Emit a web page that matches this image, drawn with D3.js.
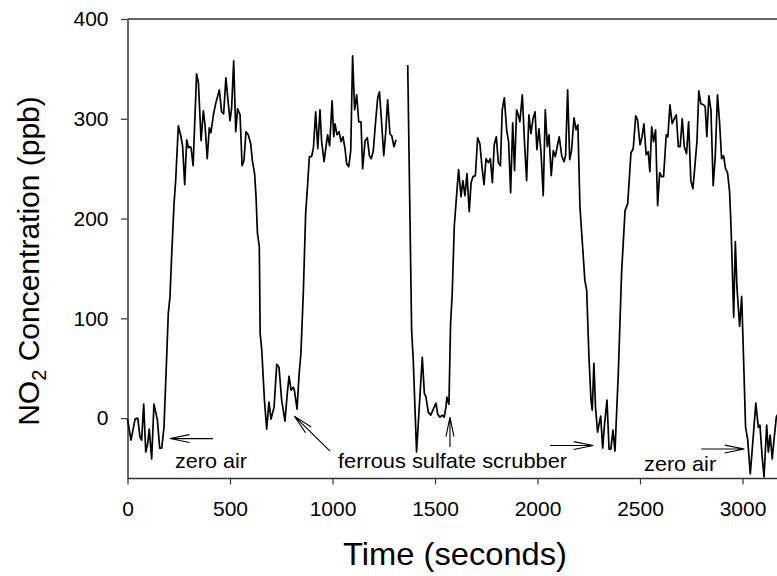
<!DOCTYPE html>
<html>
<head>
<meta charset="utf-8">
<script src="https://cdn.jsdelivr.net/npm/d3@7"></script>
<style>
  html, body { margin: 0; padding: 0; background: #fff; }
  svg { display: block; font-family: "Liberation Sans", Arial, sans-serif; }
</style>
</head>
<body>
<svg id="chart" width="777" height="576"></svg>
<script>
// ---- data ----
const time1 = [0,17,37,50,61,69,79,89,98,106,118,129,146,157,167,178,191,199,207,215,227,235,248,261,269,279,289,297,305,310,320,337,346,359,370,378,389,399,407,419,430,448,459,469,480,490,500,508,518,528,537,549,559,568,578,589,601,609,620,627,634,643,647,655,668,679,690,700,715,728,739,752,768,780,788,798,809,814,827,837,846,858,869,879,887,898,907,918,928,939,947,959,967,976,986,998,1006,1012,1022,1032,1042,1051,1061,1069,1079,1089,1098,1108,1118,1128,1139,1147,1159,1170,1180,1189,1199,1211,1220,1229,1240,1250,1259,1269,1280,1289,1300,1310];
const no2_1 = [-1,-22,-1,0,-19,-22,14,-34,-26,-11,-41,14,-2,-30,-30,-9,61,105,121,161,215,238,293,282,272,234,279,271,272,271,253,345,336,278,308,294,260,291,286,304,315,329,307,305,341,319,298,311,358,287,310,304,253,258,287,284,275,258,245,222,185,172,85,68,18,-11,16,-1,11,54,51,18,-3,26,42,28,31,28,9,44,65,128,205,235,262,262,271,307,270,309,277,257,270,284,273,318,282,295,284,287,277,282,270,255,252,268,363,309,324,297,297,250,278,281,263,260,268,299,320,327,295,263,285,319,285,283,272,279];

const time2 = [1367,1386,1394,1410,1427,1438,1448,1456,1467,1479,1492,1505,1513,1524,1536,1545,1554,1558,1568,1576,1584,1594,1606,1615,1627,1636,1646,1656,1667,1676,1685,1697,1708,1719,1729,1739,1749,1760,1770,1780,1789,1799,1809,1819,1828,1838,1850,1859,1869,1879,1888,1898,1906,1914,1926,1936,1947,1958,1968,1978,1988,1997,2007,2017,2028,2038,2048,2056,2067,2077,2087,2096,2106,2118,2129,2137,2147,2157,2166,2178,2188,2197,2207,2220,2231,2240,2251,2261,2267,2275,2283,2293,2308,2318,2327,2339,2349,2358,2368,2378,2394,2410,2427,2440,2456,2467,2479,2488,2500,2510,2519,2530,2540,2548,2557,2566,2576,2586,2596,2605,2615,2628,2636,2646,2657,2667,2677,2687,2696,2706,2716,2727,2737,2748,2758,2768,2778,2787,2797,2810,2818,2826,2836,2846,2857,2867,2878,2888,2898,2908,2917,2927,2937,2944,2950,2957,2965,2973,2986,2996,3005,3015,3025,3038,3051,3065,3077,3085,3096,3105,3118,3126,3135,3145,3155,3165,3172];
const no2_2 = [354,88,58,-34,24,61,25,21,6,3,9,15,4,1,3,1,12,21,14,95,125,192,225,249,222,238,223,245,207,236,242,243,281,275,252,234,260,256,260,236,274,282,256,253,309,321,288,277,226,296,248,309,304,297,324,279,238,304,285,300,307,269,290,267,223,309,272,284,243,268,262,272,282,263,257,263,329,259,268,301,289,294,212,172,138,128,61,18,8,55,11,-14,2,-30,-6,18,-31,-31,-12,-33,44,145,208,215,266,270,303,299,274,282,295,264,267,247,292,277,289,213,246,242,242,284,282,314,295,300,304,272,272,300,272,265,297,238,230,253,278,328,315,314,312,282,323,309,233,262,324,297,260,263,250,246,227,192,152,101,177,131,92,122,61,-9,-21,-56,-22,15,-9,-7,-39,-59,-7,-34,-17,-41,-19,1,4];

const xMajorTicks = [0, 500, 1000, 1500, 2000, 2500, 3000];
const xMinorTicks = d3.range(0, 3201, 100).filter(d => d % 500 !== 0);
const yMajorTicks = [0, 100, 200, 300, 400];
const yMinorTicks = [-50, 50, 150, 250, 350];

const labels = [
  { text: "zero air", t: 232, v: -49.5, w: 72 },
  { text: "ferrous sulfate scrubber", t: 1027, v: -49.5, w: 229 },
  { text: "zero air", t: 2520, v: -52.5, w: 72 }
];
const arrows = [
  { t0: 417, v0: -20.5, t1: 207, v1: -20.5 },
  { t0: 988, v0: -33, t1: 814, v1: 2 },
  { t0: 1573, v0: -29, t1: 1573, v1: 1 },
  { t0: 2061, v0: -27.5, t1: 2272, v1: -27.5 },
  { t0: 2798, v0: -31, t1: 3009, v1: -31 }
];

// ---- layout ----
const svg = d3.select("#chart");
const x = d3.scaleLinear().domain([0, 3200]).range([127.5, 783.5]);
const y = d3.scaleLinear().domain([-60, 400]).range([478, 19]);

const axisColor = "#333";

// top frame line
svg.append("line")
  .attr("x1", x(0)).attr("x2", x(3200))
  .attr("y1", y(400)).attr("y2", y(400))
  .attr("stroke", axisColor).attr("stroke-width", 1.5);

// x axis
const gx = svg.append("g").attr("transform", `translate(0,${y(-60)})`);
gx.call(d3.axisBottom(x).tickValues(xMinorTicks).tickSize(4).tickSizeOuter(0).tickFormat(""));
gx.call(d3.axisBottom(x).tickValues(xMajorTicks).tickSize(6.5).tickSizeOuter(0).tickFormat(d3.format("d")));
gx.selectAll("path.domain").attr("stroke", axisColor).attr("stroke-width", 1.5);
gx.selectAll(".tick line").attr("stroke", axisColor).attr("stroke-width", 1.2);
gx.selectAll(".tick text").attr("fill", "#000").style("font-size", "21px").attr("y", 23).attr("dy", "0.71em");

// y axis
const gy = svg.append("g").attr("transform", `translate(${x(0)},0)`);
gy.call(d3.axisLeft(y).tickValues(yMinorTicks).tickSize(4).tickSizeOuter(0).tickFormat(""));
gy.call(d3.axisLeft(y).tickValues(yMajorTicks).tickSize(6.5).tickSizeOuter(0).tickFormat(d3.format("d")));
gy.selectAll("path.domain").attr("stroke", axisColor).attr("stroke-width", 1.5);
gy.selectAll(".tick line").attr("stroke", axisColor).attr("stroke-width", 1.2);
gy.selectAll(".tick text").attr("fill", "#000").style("font-size", "21px").attr("x", -19);

// series lines
const line = d3.line().x(d => x(d[0])).y(d => y(d[1]));
const seg1 = time1.map((t, i) => [t, no2_1[i]]);
const seg2 = time2.map((t, i) => [t, no2_2[i]]);
[seg1, seg2].forEach(s => {
  svg.append("path").datum(s)
    .attr("d", line)
    .attr("fill", "none")
    .attr("stroke", "#000")
    .attr("stroke-width", 1.7)
    .attr("stroke-linejoin", "round");
});

// annotation labels
svg.selectAll("text.note").data(labels).enter().append("text")
  .attr("class", "note")
  .attr("x", d => x(d.t)).attr("y", d => y(d.v))
  .attr("textLength", d => d.w).attr("lengthAdjust", "spacingAndGlyphs")
  .style("font-size", "21px").attr("fill", "#000")
  .text(d => d.text);

// arrows with open V heads
const headLen = 20, headHalf = 0.2;
arrows.forEach(a => {
  const x0 = x(a.t0), y0 = y(a.v0), x1 = x(a.t1), y1 = y(a.v1);
  const ang = Math.atan2(y0 - y1, x0 - x1);
  const bx1 = x1 + headLen * Math.cos(ang + headHalf), by1 = y1 + headLen * Math.sin(ang + headHalf);
  const bx2 = x1 + headLen * Math.cos(ang - headHalf), by2 = y1 + headLen * Math.sin(ang - headHalf);
  svg.append("path")
    .attr("d", `M${x0},${y0}L${x1},${y1}M${bx1},${by1}L${x1},${y1}L${bx2},${by2}`)
    .attr("fill", "none").attr("stroke", "#000").attr("stroke-width", 1.1);
});

// axis titles
svg.append("text")
  .attr("x", 343).attr("y", 565)
  .attr("textLength", 224).attr("lengthAdjust", "spacingAndGlyphs")
  .style("font-size", "31.5px").attr("fill", "#000")
  .text("Time (seconds)");

const yt = svg.append("text")
  .attr("transform", "translate(39,261) rotate(-90)")
  .attr("text-anchor", "middle")
  .style("font-size", "30px").attr("fill", "#000");
yt.append("tspan").text("NO");
yt.append("tspan").text("2").style("font-size", "20px").attr("dy", 7);
yt.append("tspan").text(" Concentration (ppb)").attr("dy", -7);
</script>
</body>
</html>
